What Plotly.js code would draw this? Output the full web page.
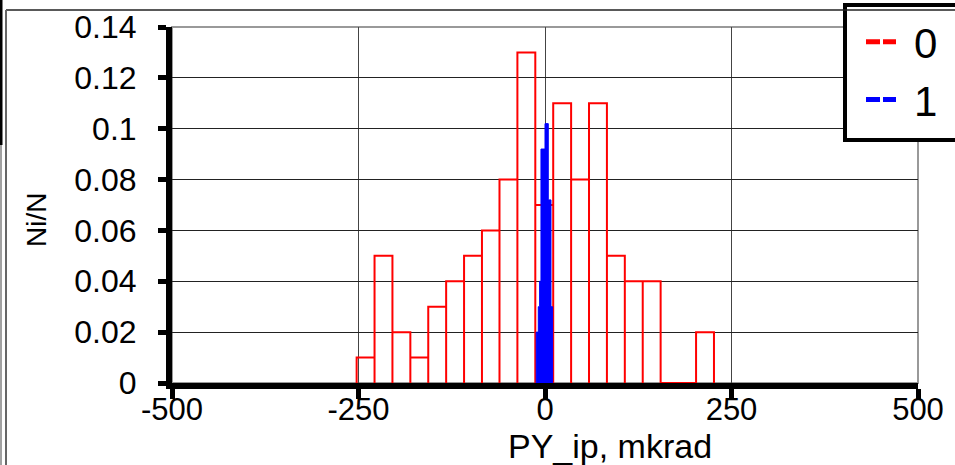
<!DOCTYPE html>
<html>
<head>
<meta charset="utf-8">
<script src="https://cdn.plot.ly/plotly-3.0.1.min.js"></script>
<style>
html,body{margin:0;padding:0;background:#fff;}
#chart{width:955px;height:465px;}
</style>
</head>
<body>
<div id="chart"></div>
<script>
// ---- data ----
const redEdges  = [-252.5,-228.5,-204.5,-180.5,-156.5,-132.5,-108.5,-84.5,-61,-37,-13,11,35,59,83,107,131,155,178.5,202.5,226.5];
const redValues = [0.01,0.05,0.02,0.01,0.03,0.04,0.05,0.06,0.08,0.13,0.07,0.11,0.08,0.11,0.05,0.04,0.04,0,0,0.02];
const blueEdges  = [-11.8,-9.0,-7.2,-5.4,0,4.4,8.0,10.2];
const blueValues = [0.02,0.03,0.04,0.092,0.102,0.072,0.03];
const seriesNames = ['0','1'];
const xTickVals = [-500,-250,0,250,500];
const xTickText = ['-500','-250','0','250','500'];
const xTitle = 'PY_ip, mkrad';
const yTitle = 'Ni/N';

// step outline with drops to zero at every bin edge
const rx = [], ry = [];
for (let i = 0; i < redValues.length; i++) {
  rx.push(redEdges[i], redEdges[i], redEdges[i+1], redEdges[i+1]);
  ry.push(0, redValues[i], redValues[i], 0);
}
const bx = [blueEdges[0]], by = [0];
for (let i = 0; i < blueValues.length; i++) {
  bx.push(blueEdges[i], blueEdges[i+1]);
  by.push(blueValues[i], blueValues[i]);
}
bx.push(blueEdges[blueEdges.length-1]); by.push(0);

const FONT = 'Liberation Sans, Arial, sans-serif';
const W = 955, H = 465, ML = 172, MR = 37, MT = 27, MB = 82;
const PW = W - ML - MR, PH = H - MT - MB;
const xp = px => (px - ML) / PW;
const yp = py => (H - MB - py) / PH;

const legendDash = '14px,3px,13px,30px';
const traces = [
  {x: rx, y: ry, type: 'scatter', mode: 'lines', line: {color: '#ff0000', width: 2}, showlegend: false, hoverinfo: 'skip'},
  {x: bx, y: by, type: 'scatter', mode: 'lines', fill: 'toself', fillcolor: '#0000ff', line: {color: '#0000ff', width: 1}, showlegend: false, hoverinfo: 'skip'},
  {x: [null], y: [null], type: 'scatter', mode: 'lines', name: seriesNames[0], line: {color: '#ff0000', width: 5, dash: legendDash}},
  {x: [null], y: [null], type: 'scatter', mode: 'lines', name: seriesNames[1], line: {color: '#0000ff', width: 5, dash: legendDash}}
];

const lineShape = (x0,y0,x1,y1,color,width) => ({type:'line', xref:'paper', yref:'paper', x0:xp(x0), y0:yp(y0), x1:xp(x1), y1:yp(y1), line:{color:color, width:width}, layer:'above'});

const layout = {
  width: W, height: H,
  margin: {l: ML, r: MR, t: MT, b: MB, pad: 0, autoexpand: false},
  paper_bgcolor: '#fff', plot_bgcolor: '#fff',
  font: {family: FONT, color: '#000'},
  showlegend: true,
  xaxis: {
    range: [-500, 500], tickmode: 'array', tickvals: xTickVals, ticktext: xTickText,
    showline: true, linecolor: '#000', linewidth: 6,
    ticks: 'outside', ticklen: 10, tickwidth: 5, tickcolor: '#000',
    showgrid: true, gridcolor: '#444', gridwidth: 1, zeroline: false,
    tickfont: {family: FONT, size: 31, color: '#000'}, ticklabelstandoff: -16, fixedrange: true
  },
  yaxis: {
    range: [0, 0.14], dtick: 0.02, tick0: 0,
    showline: true, linecolor: '#000', linewidth: 6,
    ticks: 'outside', ticklen: 8, tickwidth: 5, tickcolor: '#000',
    showgrid: true, gridcolor: '#222', gridwidth: 1, zeroline: false,
    tickfont: {family: FONT, size: 32, color: '#000'}, ticklabelstandoff: 15, fixedrange: true
  },
  legend: {
    x: xp(861), y: yp(8), xanchor: 'left', yanchor: 'top',
    bgcolor: 'rgba(0,0,0,0)', borderwidth: 0, itemwidth: 43,
    font: {family: FONT, size: 42, color: '#000'}
  },
  shapes: [
    {type:'rect', xref:'paper', yref:'paper', x0:0, x1:1, y0:0, y1:1, line:{color:'#999', width:2}, fillcolor:'rgba(0,0,0,0)', layer:'below'},
    {type:'rect', xref:'paper', yref:'paper', x0:xp(845), x1:xp(965), y0:yp(5), y1:yp(140), line:{color:'#000', width:4}, fillcolor:'#fff', layer:'above'},
    lineShape(6, 10, 960, 10, '#222', 1.5),
    lineShape(6, 10, 6, 470, '#666', 2),
    lineShape(1, -5, 1, 145, '#000', 3),
    lineShape(1, 145, 1, 470, '#444', 1)
  ],
  annotations: [
    {text: xTitle, xref:'paper', yref:'paper', x: xp(610), y: yp(446), xanchor:'center', yanchor:'middle', showarrow:false, font:{family: FONT, size: 34, color:'#000'}},
    {text: yTitle, xref:'paper', yref:'paper', x: xp(36), y: yp(220), xanchor:'center', yanchor:'middle', textangle:-90, showarrow:false, font:{family: FONT, size: 28, color:'#000'}}
  ]
};

Plotly.newPlot('chart', traces, layout, {staticPlot: true, displayModeBar: false});
</script>
</body>
</html>
